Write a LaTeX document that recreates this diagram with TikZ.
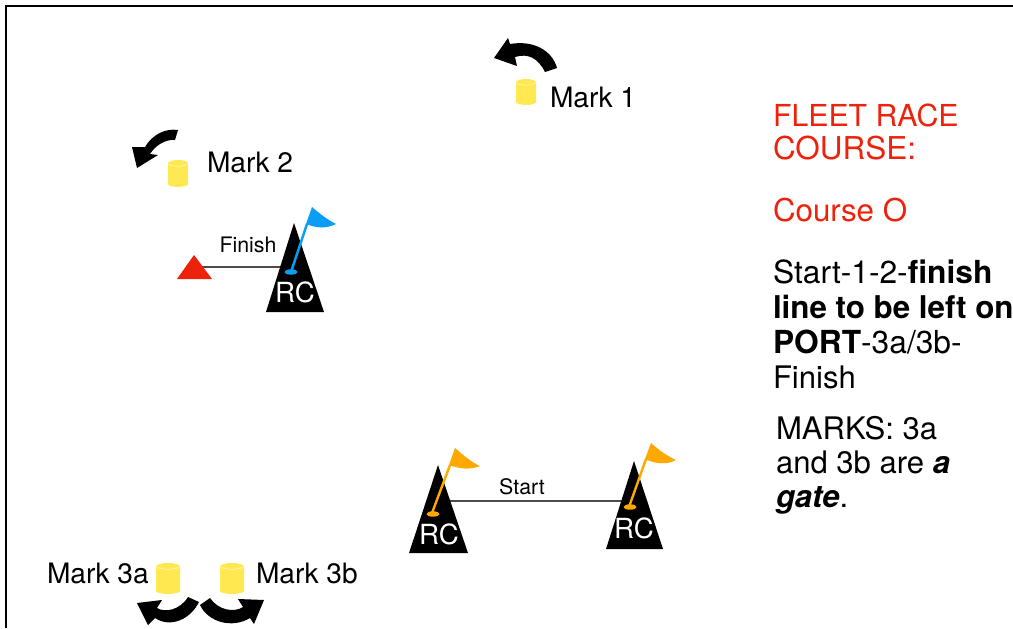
\documentclass[tikz,border=0pt]{standalone}
\usepackage{fontspec}
\setmainfont{TeX Gyre Heros}
\definecolor{markyellow}{HTML}{FFE850}
\definecolor{markrim}{HTML}{FFF7B0}
\definecolor{raceblue}{HTML}{0A9DF5}
\definecolor{raceorange}{HTML}{FFA800}
\definecolor{racered}{HTML}{EE220C}
\newcommand{\fs}[1]{\fontsize{#1}{#1}\selectfont}
\tikzset{
  x=0.75pt,y=-0.75pt,
  lbl/.style={anchor=base west,inner sep=0pt,outer sep=0pt,text=black},
  marklbl/.style={lbl,font=\fs{21.1}},
  cours/.style={lbl,font=\fs{23.3}},
  coursred/.style={cours,text=racered},
  rclbl/.style={anchor=base,inner sep=0pt,text=white,font=\fs{20.8}},
  linelbl/.style={anchor=base,inner sep=0pt,font=\fs{16}},
  turn/.style={fill=black,draw=none},
  boat/.style={fill=black,draw=none},
  lineconn/.style={draw=black!70,line width=1.2pt},
  pole/.style={line width=1.8pt},
}
\newcommand{\buoy}[4]{% left x, top y, bottom y, width
  \fill[markyellow] (#1,#2+3.5) -- (#1,#3-2.5) .. controls (#1+0.15*#4,#3+0.7) and (#1+0.85*#4,#3+0.7) .. (#1+#4,#3-2.5) -- (#1+#4,#2+3.5) -- cycle;
  \fill[markyellow] (#1+0.5*#4,#2+3.5) ellipse [x radius=0.5*#4,y radius=3.5];
  \draw[markrim,line width=0.6pt] (#1+0.5,#2+4) .. controls (#1+0.2*#4,#2+7) and (#1+0.8*#4,#2+7) .. (#1+#4-0.5,#2+4);
}
\begin{document}
\begin{tikzpicture}
\useasboundingbox (0,0) rectangle (1013,628);
\fill[white] (0,0) rectangle (1013,628);
\coordinate (bl) at (6,628); \coordinate (tl) at (6,6); \coordinate (tr) at (1013,6);
\draw[black,line width=2.1pt,line join=miter] (bl) -- (tl) -- (tr);

% turn arrows
\path[turn] (545,72) -- (557,68) .. controls (552,50) and (533,40) .. (510,44) -- (508,38) -- (494,58) -- (517,66) -- (515,57) .. controls (528,53) and (538,58) .. cycle;
\path[turn] (178,130) -- (175,140) .. controls (165,139) and (155,146) .. (150,154) -- (158,155) -- (137,168) -- (132,147) -- (145,147) .. controls (152,135) and (165,128) .. cycle;
\path[turn] (188,597) -- (199,602) .. controls (190,620) and (170,628) .. (155,618) -- (148,625) -- (137,603) -- (162,600) -- (157,608) .. controls (165,613) and (180,610) .. cycle;
\path[turn] (210,598) -- (200,605) .. controls (208,622) and (232,629) .. (250,618) -- (254,624) -- (264,600) -- (238,599) -- (243,607) .. controls (234,613) and (218,610) .. cycle;

% buoys
\buoy{516}{79}{105}{20}
\buoy{168}{160}{187}{20}
\buoy{156}{563}{594}{24}
\buoy{220}{563}{594}{24}

% mark labels
\node[marklbl] (m1) at (550,107) {Mark 1};
\node[marklbl] (m2) at (207,172) {Mark 2};
\node[marklbl] (m3a) at (47,583) {Mark 3a};
\node[marklbl] (m3b) at (256,583) {Mark 3b};

% finish line
\coordinate (finA) at (200,267); \coordinate (finB) at (282,267);
\draw[lineconn] (finA) -- (finB);
\fill[racered] (194,255) -- (212,279) -- (177,279) -- cycle;
\node[linelbl] (finish) at (248,252) {Finish};
\path[boat] (294,223) -- (324,312) -- (266,312) -- cycle;
\node[rclbl] (rc1) at (295,302) {RC};
\draw[raceblue,pole] (291,272) -- (307,224);
\fill[raceblue] (291,272) ellipse [x radius=6.5,y radius=2.7];
\fill[raceblue] (312,207) .. controls (320,214) and (328,220) .. (336,224) .. controls (326,229) and (316,228) .. (306,224) -- cycle;

% start line
\coordinate (stA) at (450,501); \coordinate (stB) at (624,501);
\draw[lineconn] (stA) -- (stB);
\node[linelbl] (start) at (522,494) {Start};
\path[boat] (438,465) -- (468,553) -- (409,553) -- cycle;
\node[rclbl] (rc2) at (439,544) {RC};
\draw[raceorange,pole] (432,513) -- (450,465);
\fill[raceorange] (433,514) ellipse [x radius=6.5,y radius=2.7];
\fill[raceorange] (455,448) .. controls (463,455) and (471,462) .. (480,466) .. controls (470,470) and (460,469) .. (449,465) -- cycle;
\path[boat] (634,461) -- (663,549) -- (606,549) -- cycle;
\node[rclbl] (rc3) at (634,538) {RC};
\draw[raceorange,pole] (629,507) -- (646,459);
\fill[raceorange] (651,443) .. controls (659,450) and (667,456) .. (676,460) .. controls (667,465) and (655,464) .. (645,459) -- cycle;
\fill[raceorange] (630,507) ellipse [x radius=6.5,y radius=2.7];

% course text
\node[coursred,font=\fs{22.7}] (t1) at (773,126) {FLEET RACE};
\node[coursred,font=\fs{23.6}] (t2) at (773,159) {COURSE:};
\node[coursred,font=\fs{23.5}] (t3) at (773,221) {Course O};
\node[cours,font=\fs{23.8}] (t4) at (773,283) {Start-1-2-\textbf{finish}};
\node[cours,font=\fs{23.5}] (t5) at (773,318) {\textbf{line to be left on}};
\node[cours,font=\fs{23.8}] (t6) at (773,353) {\textbf{PORT}-3a/3b-};
\node[cours] (t7) at (773,388) {Finish};
\node[cours] (t8) at (776,439) {MARKS: 3a};
\node[cours] (t9) at (776,473) {and 3b are \textbf{\textit{a}}};
\node[cours] (t10) at (776,507) {\textbf{\textit{gate}}.};
\end{tikzpicture}
\end{document}
